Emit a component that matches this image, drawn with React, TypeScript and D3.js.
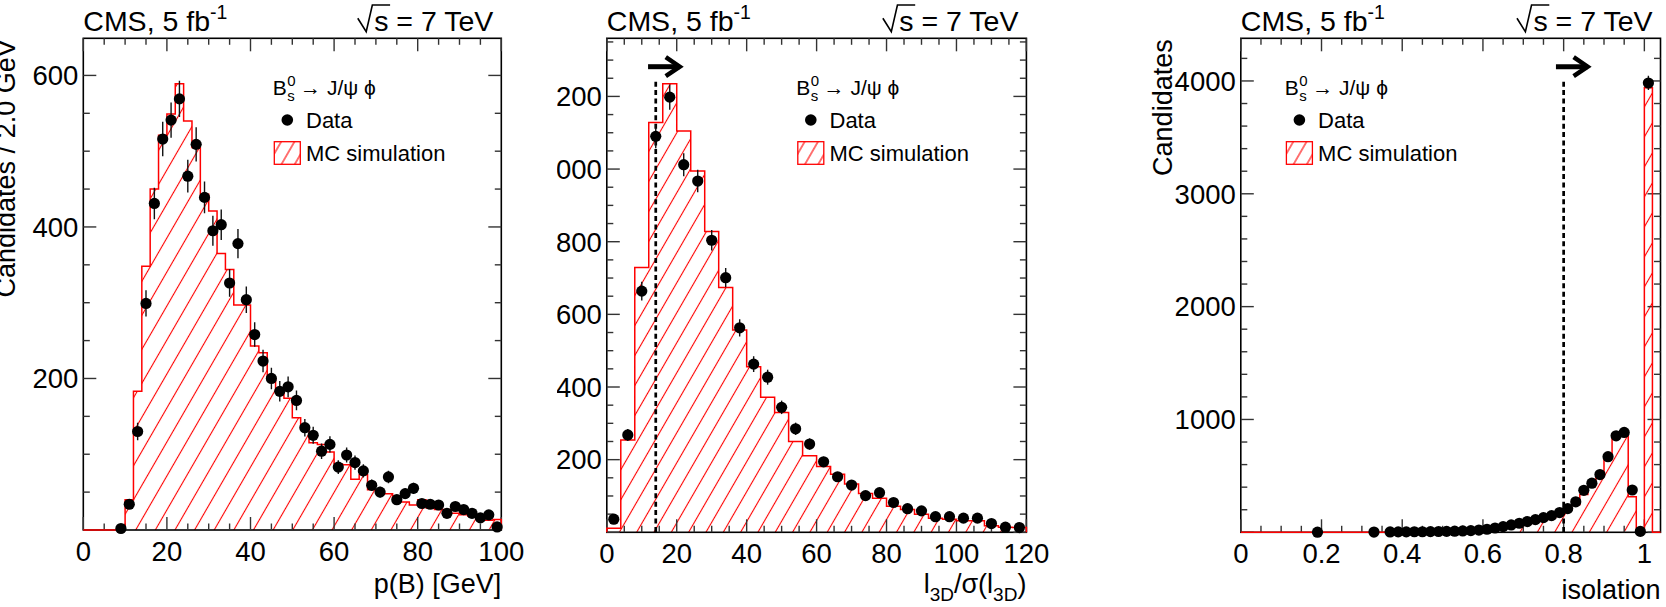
import React, { useEffect, useRef } from "react";
import * as d3 from "d3";

const W = 1666;
const H = 607;
const FONT = "'Liberation Sans', Arial, Helvetica, sans-serif";
const RED = "#ff0000";

// p(B) [GeV], 2 GeV bins from 0 to 100
const momBinWidth = 2;
const momMc = [0, 0, 0, 0, 0, 40, 183, 348, 450, 521, 549, 589, 540, 505, 443, 421, 365, 344, 297, 297, 243, 234, 199, 181, 174, 148, 134, 115, 113, 103, 87, 86, 67, 73, 53, 49, 48, 45, 37, 33, 40, 29, 27, 27, 22, 20, 18, 18, 13, 14];
const momData = [0, 0, 0, 0, 2, 34, 130, 299, 431, 516, 541, 569, 467, 509, 439, 395, 403, 326, 378, 304, 258, 223, 200, 183, 189, 171, 135, 125, 104, 113, 83, 99, 89, 78, 59, 50, 70, 40, 48, 55, 35, 34, 33, 22, 31, 27, 22, 16, 20, 4];
const momXTicks = [0, 20, 40, 60, 80, 100];
const momYTicks = [200, 400, 600];

// l3D / sigma(l3D), bins of 4 from 0 to 120
const ipBinWidth = 4;
const ipMc = [11, 254, 729, 1128, 1235, 1105, 995, 828, 674, 557, 456, 372, 330, 250, 211, 181, 160, 133, 107, 94, 72, 63, 50, 39, 36, 32, 32, 18, 14, 13];
const ipData = [36, 268, 664, 1090, 1198, 1012, 967, 804, 701, 563, 463, 427, 344, 285, 243, 194, 153, 130, 101, 109, 82, 65, 59, 43, 43, 39, 39, 24, 14, 13];
const ipXTicks = [0, 20, 40, 60, 80, 100, 120];
const ipYTicks = [200, 400, 600, 800, 1000, 1200];
const ipCut = 14;

// isolation, bins of 0.02 from 0 to 1.04
const isoBinWidth = 0.02;
const isoMc = [0, 0, 0, 0, 0, 0, 0, 0, 0, 0, 0, 0, 0, 0, 0, 0, 0, 0, 0, 0, 1, 1, 2, 2, 3, 4, 6, 8, 11, 15, 20, 28, 36, 48, 60, 75, 92, 110, 130, 155, 200, 245, 335, 440, 510, 680, 870, 860, 316, 5, 3940, 0];
const isoData = [0, 0, 0, 0, 0, 0, 0, 0, 0, 1, 0, 0, 0, 0, 0, 0, 2, 0, 3, 4, 4, 5, 5, 6, 7, 8, 10, 12, 15, 20, 27, 38, 50, 65, 80, 95, 112, 130, 148, 175, 210, 270, 372, 435, 512, 670, 855, 885, 375, 8, 3982, 0];
const isoXTicks = [0, 0.2, 0.4, 0.6, 0.8, 1];
const isoYTicks = [1000, 2000, 3000, 4000];
const isoCut = 0.8;

type Panel = {
  id: string;
  left: number; right: number; top: number; bottom: number;
  xMax: number; yMax: number; binWidth: number;
  mc: number[]; data: number[];
  xTicks: number[]; yTicks: number[]; xMinor: number; yMinor: number;
  yTitle: string | null; yTitleX: number; xTitleY: number;
  legendDx: number; cut: number | null; clipLeft: number; hatch: number;
  xTitle: (t: any) => void;
};

const panels: Panel[] = [
  {
    id: "mom", left: 83.3, right: 501.3, top: 38.3, bottom: 530,
    xMax: 100, yMax: 649, binWidth: momBinWidth, mc: momMc, data: momData,
    xTicks: momXTicks, yTicks: momYTicks, xMinor: 5, yMinor: 50,
    yTitle: "Candidates / 2.0 GeV", yTitleX: 15, xTitleY: 593,
    legendDx: 189.4, cut: null, clipLeft: 0, hatch: 17,
    xTitle: t => t.text("p(B) [GeV]"),
  },
  {
    id: "ip", left: 606.8, right: 1026.4, top: 38.3, bottom: 532.3,
    xMax: 120, yMax: 1360, binWidth: ipBinWidth, mc: ipMc, data: ipData,
    xTicks: ipXTicks, yTicks: ipYTicks, xMinor: 5, yMinor: 50,
    yTitle: null, yTitleX: 0, xTitleY: 593,
    legendDx: 189.4, cut: ipCut, clipLeft: 557, hatch: 15,
    xTitle: t => {
      t.append("tspan").text("l");
      t.append("tspan").attr("font-size", 19).attr("dy", 8).text("3D");
      t.append("tspan").attr("dy", -8).text("/σ(l");
      t.append("tspan").attr("font-size", 19).attr("dy", 8).text("3D");
      t.append("tspan").attr("dy", -8).text(")");
    },
  },
  {
    id: "iso", left: 1240.8, right: 1660.5, top: 38.3, bottom: 532.3,
    xMax: 1.04, yMax: 4378, binWidth: isoBinWidth, mc: isoMc, data: isoData,
    xTicks: isoXTicks, yTicks: isoYTicks, xMinor: 0.05, yMinor: 200,
    yTitle: "Candidates", yTitleX: 1172, xTitleY: 599,
    legendDx: 44, cut: isoCut, clipLeft: 1100, hatch: 15,
    xTitle: t => t.text("isolation"),
  },
];

const near = (list: number[], v: number) => list.some(m => Math.abs(m - v) < 1e-6);

function drawPanel(svg: any, defs: any, p: Panel) {
  const x = d3.scaleLinear().domain([0, p.xMax]).range([p.left, p.right]);
  const y = d3.scaleLinear().domain([0, p.yMax]).range([p.bottom, p.top]);

  defs.append("clipPath").attr("id", `clip-${p.id}`)
    .append("rect").attr("x", p.clipLeft).attr("y", 0)
    .attr("width", W - p.clipLeft).attr("height", H);
  defs.append("clipPath").attr("id", `frame-${p.id}`)
    .append("rect").attr("x", p.left).attr("y", p.top)
    .attr("width", p.right - p.left).attr("height", p.bottom - p.top);

  const pat = defs.append("pattern").attr("id", `hatch-${p.id}`)
    .attr("patternUnits", "userSpaceOnUse")
    .attr("width", p.hatch).attr("height", 20)
    .attr("patternTransform", "rotate(30)");
  pat.append("line")
    .attr("x1", p.hatch / 2).attr("y1", -1).attr("x2", p.hatch / 2).attr("y2", 21)
    .attr("stroke", RED).attr("stroke-width", 1.1);

  const g = svg.append("g").attr("clip-path", `url(#clip-${p.id})`)
    .attr("font-family", FONT);

  // MC histogram, hatched
  const steps: [number, number][] = [];
  p.mc.forEach((v, i) => {
    steps.push([i * p.binWidth, v]);
    steps.push([(i + 1) * p.binWidth, v]);
  });
  const area = d3.area<[number, number]>()
    .x(d => x(d[0])).y0(y(0)).y1(d => y(d[1]));
  g.append("path").attr("d", area(steps)).attr("fill", `url(#hatch-${p.id})`)
    .attr("clip-path", `url(#frame-${p.id})`);

  // frame and ticks
  g.append("rect").attr("x", p.left).attr("y", p.top)
    .attr("width", p.right - p.left).attr("height", p.bottom - p.top)
    .attr("fill", "none").attr("stroke", "#000").attr("stroke-width", 1.6);

  const ticks = g.append("g").attr("stroke", "#333").attr("stroke-width", 1.4);
  d3.range(0, p.xMax + 1e-9, p.xMinor).forEach(t => {
    const len = near(p.xTicks, t) ? 13 : 6.5;
    const xx = x(t);
    ticks.append("line").attr("x1", xx).attr("x2", xx).attr("y1", p.bottom).attr("y2", p.bottom - len);
    ticks.append("line").attr("x1", xx).attr("x2", xx).attr("y1", p.top).attr("y2", p.top + len);
  });
  d3.range(0, p.yMax, p.yMinor).forEach(t => {
    const len = near(p.yTicks, t) || t === 0 ? 13 : 6.5;
    const yy = y(t);
    ticks.append("line").attr("x1", p.left).attr("x2", p.left + len).attr("y1", yy).attr("y2", yy);
    ticks.append("line").attr("x1", p.right).attr("x2", p.right - len).attr("y1", yy).attr("y2", yy);
  });

  // MC outline
  const line = d3.line<[number, number]>().x(d => x(d[0])).y(d => y(d[1]));
  g.append("path")
    .attr("d", line([[0, 0], ...steps, [p.mc.length * p.binWidth, 0]]))
    .attr("fill", "none").attr("stroke", RED).attr("stroke-width", 1.5);

  // tick labels
  p.xTicks.forEach(t => {
    g.append("text").attr("x", x(t)).attr("y", p.bottom + 31)
      .attr("text-anchor", "middle").attr("font-size", 27.5).text(String(t));
  });
  p.yTicks.forEach(t => {
    g.append("text").attr("x", p.left - 5).attr("y", y(t) + 9.8)
      .attr("text-anchor", "end").attr("font-size", 27.5).text(String(t));
  });

  // axis titles
  const xt = g.append("text").attr("x", p.right).attr("y", p.xTitleY)
    .attr("text-anchor", "end").attr("font-size", 27);
  p.xTitle(xt);
  if (p.yTitle) {
    g.append("text").attr("transform", `translate(${p.yTitleX},${p.top + 1}) rotate(-90)`)
      .attr("text-anchor", "end").attr("font-size", 27).text(p.yTitle);
  }

  // header
  const hs = 28.5;
  const k = hs / 26;
  const base = p.top - 7.6;
  const head = g.append("text").attr("x", p.left).attr("y", base).attr("font-size", hs);
  head.append("tspan").text("CMS, 5 fb");
  head.append("tspan").attr("font-size", 19.5).attr("dy", -12).text("-1");
  const rs = g.append("text").attr("x", p.right - 8).attr("y", base)
    .attr("text-anchor", "end").attr("font-size", hs).text("s = 7 TeV");
  const sx = p.right - 8 - (rs.node() as SVGTextElement).getComputedTextLength();
  g.append("path")
    .attr("d", `M${sx - 15 * k},${base - 11.4 * k} L${sx - 7.3 * k},${base + 1} L${sx - 1.7 * k},${base - 23.4 * k} L${sx + 14.5 * k},${base - 23.4 * k}`)
    .attr("fill", "none").attr("stroke", "#000").attr("stroke-width", 1.6);

  // cut line and arrow
  if (p.cut !== null) {
    const cx = x(p.cut);
    g.append("line").attr("x1", cx).attr("x2", cx).attr("y1", p.top + 43.4).attr("y2", p.bottom)
      .attr("stroke", "#000").attr("stroke-width", 2.7).attr("stroke-dasharray", "5,3.4");
    const ay = p.top + 28.4;
    g.append("line").attr("x1", cx - 7.7).attr("x2", cx + 24).attr("y1", ay).attr("y2", ay)
      .attr("stroke", "#000").attr("stroke-width", 5);
    g.append("path")
      .attr("d", `M${cx + 10},${ay - 9.5} L${cx + 24},${ay} L${cx + 10},${ay + 9.5}`)
      .attr("fill", "none").attr("stroke", "#000").attr("stroke-width", 4.5)
      .attr("stroke-linejoin", "miter");
  }

  // data with sqrt(N) errors
  const pts = g.append("g").attr("clip-path", `url(#frame-${p.id})`);
  p.data.forEach((v, i) => {
    if (v <= 0) return;
    const cx = x((i + 0.5) * p.binWidth);
    const err = Math.sqrt(v);
    pts.append("line").attr("x1", cx).attr("x2", cx)
      .attr("y1", y(v - err)).attr("y2", y(v + err))
      .attr("stroke", "#111").attr("stroke-width", 1.4);
  });
  const dots = g.append("g");
  p.data.forEach((v, i) => {
    if (v <= 0) return;
    dots.append("circle").attr("cx", x((i + 0.5) * p.binWidth)).attr("cy", y(v))
      .attr("r", 5.6).attr("fill", "#000");
  });

  // legend
  const lx = p.left + p.legendDx;
  const by = p.top + 57;
  const bTxt = g.append("text").attr("x", lx).attr("y", by).attr("font-size", 21).text("B");
  const wB = (bTxt.node() as SVGTextElement).getComputedTextLength();
  g.append("text").attr("x", lx + wB + 0.5).attr("y", by + 5.5).attr("font-size", 15).text("s");
  const sup = g.append("text").attr("x", lx + wB + 0.5).attr("y", by - 9.5).attr("font-size", 15).text("0");
  const wS = (sup.node() as SVGTextElement).getComputedTextLength();
  g.append("text").attr("x", lx + wB + wS + 5).attr("y", by).attr("font-size", 21).text("→ J/ψ ϕ");

  g.append("circle").attr("cx", lx + 14.6).attr("cy", p.top + 81.7).attr("r", 5.8).attr("fill", "#000");
  g.append("text").attr("x", lx + 33.3).attr("y", p.top + 89.6).attr("font-size", 22).text("Data");

  g.append("rect").attr("x", lx + 1.6).attr("y", p.top + 103.4).attr("width", 26).attr("height", 22.6)
    .attr("fill", `url(#hatch-leg-${p.id})`).attr("stroke", RED).attr("stroke-width", 1.3);
  const lp = defs.append("pattern").attr("id", `hatch-leg-${p.id}`)
    .attr("patternUnits", "userSpaceOnUse").attr("width", 11.5).attr("height", 20)
    .attr("patternTransform", `translate(${lx + 4},0) rotate(30)`);
  lp.append("line").attr("x1", 5.75).attr("y1", -1).attr("x2", 5.75).attr("y2", 21)
    .attr("stroke", RED).attr("stroke-width", 1.1);
  g.append("text").attr("x", lx + 33.3).attr("y", p.top + 122.9).attr("font-size", 22).text("MC simulation");
}

export default function App() {
  const ref = useRef<SVGSVGElement>(null);
  useEffect(() => {
    const svg = d3.select(ref.current);
    svg.selectAll("*").remove();
    const defs = svg.append("defs");
    panels.forEach(p => drawPanel(svg, defs, p));
  }, []);
  return (
    <div style={{ position: "absolute", left: 0, top: 0 }}>
      <svg ref={ref} width={W} height={H} style={{ display: "block", background: "#fff" }} />
    </div>
  );
}
